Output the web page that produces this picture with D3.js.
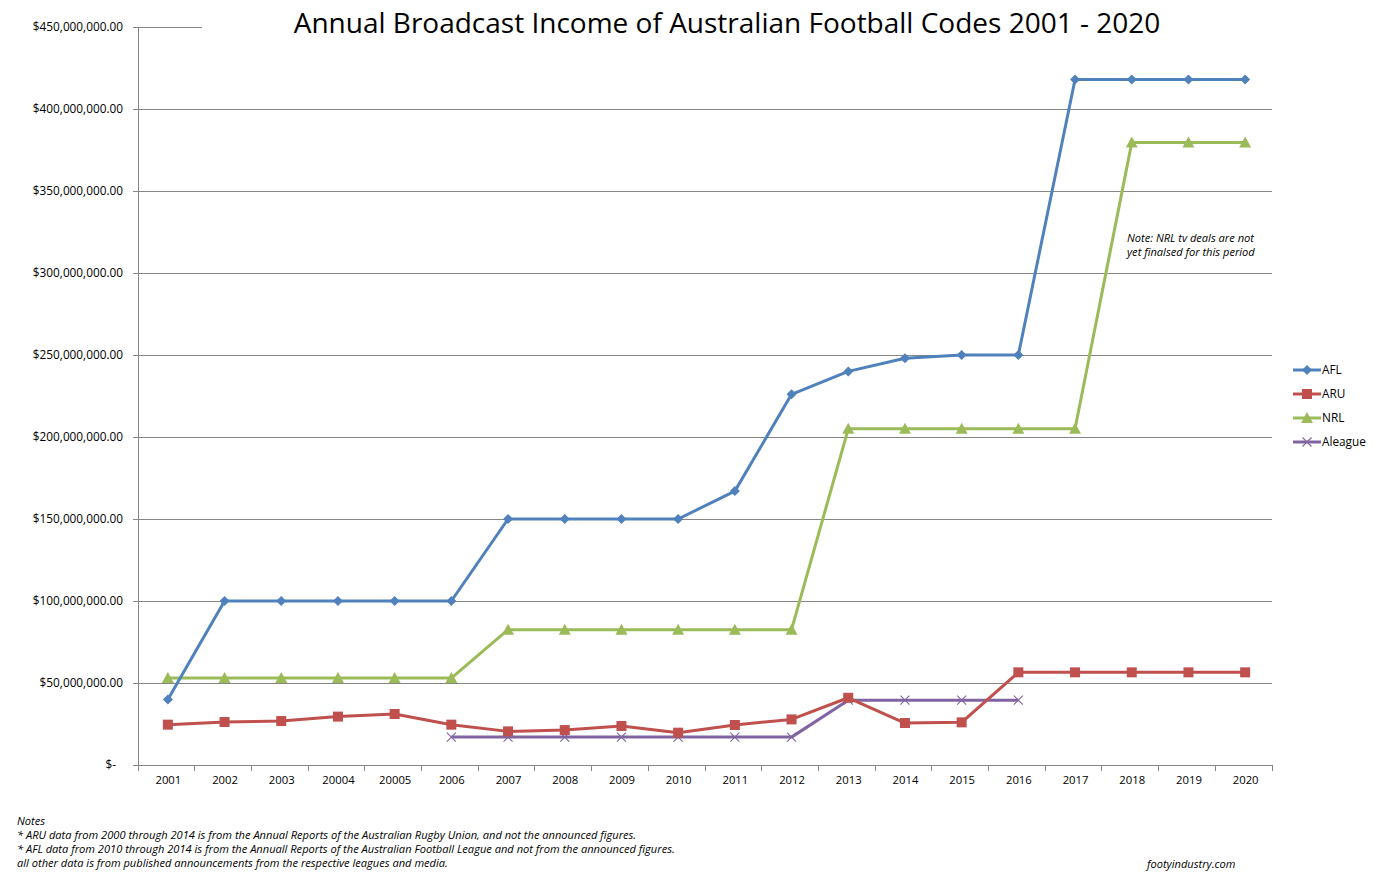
<!DOCTYPE html>
<html><head><meta charset="utf-8">
<script src="https://cdn.jsdelivr.net/npm/d3@7"></script>
<style>body{margin:0;background:#fff;} svg{display:block;} text{font-family:"Open Sans","DejaVu Sans",sans-serif;}</style>
</head><body>
<svg id="c" width="1388" height="883"></svg>
<script>
const years = ["2001","2002","2003","20004","20005","2006","2007","2008","2009","2010","2011","2012","2013","2014","2015","2016","2017","2018","2019","2020"];
const afl = [40,100,100,100,100,100,150,150,150,150,167,226,240,248,250,250,418,418,418,418];
const aru = [24.6,26.2,26.8,29.5,31.1,24.6,20.5,21.3,23.8,19.7,24.4,27.8,41,25.6,26,56.5,56.5,56.5,56.5,56.5];
const nrl = [53,53,53,53,53,53,82.5,82.5,82.5,82.5,82.5,82.5,205,205,205,205,205,379.5,379.5,379.5];
const aleague = [null,null,null,null,null,17,17,17,17,17,17,17,39.5,39.5,39.5,39.5,null,null,null,null];
const yTicks = [0,50,100,150,200,250,300,350,400,450];
const yTickLabels = ["$-","$50,000,000.00","$100,000,000.00","$150,000,000.00","$200,000,000.00","$250,000,000.00","$300,000,000.00","$350,000,000.00","$400,000,000.00","$450,000,000.00"];
const seriesNames = ["AFL","ARU","NRL","Aleague"];
const seriesColors = ["#4F81BD","#C0504D","#9BBB59","#8064A2"];
const seriesMarkers = ["diamond","square","triangle","x"];
const title = "Annual Broadcast Income of Australian Football Codes 2001 - 2020";
const noteText = ["Note: NRL tv deals are not","yet finalsed for this period"];
const footNotes = ["Notes","* ARU data from 2000 through 2014 is from the Annual Reports of the Australian Rugby Union, and not the announced figures.","* AFL data from 2010 through 2014 is from the Annuall Reports of the Australian Football League and not from the announced figures.","all other data is from published announcements from the respective leagues and media."];
const credit = "footyindustry.com";

const svg = d3.select("#c");
const L=138,R=1272,T=27,B=765;
const x = d3.scaleBand().domain(years).range([L,R]).padding(0);
const y = d3.scaleLinear().domain([0,450]).range([B,T]);
const cx = d => x(d)+x.bandwidth()/2+1.5;
const grid="#868686";

// gridlines
svg.append("g").selectAll("line").data(yTicks.filter(v=>v>0)).join("line")
  .attr("x1",L).attr("x2",R).attr("y1",d=>y(d)).attr("y2",d=>y(d))
  .attr("stroke",grid).attr("stroke-width",1).attr("shape-rendering","crispEdges");

// y axis
const ya = svg.append("g").attr("transform",`translate(${L},0)`)
  .call(d3.axisLeft(y).tickValues(yTicks).tickSize(5).tickFormat((d,i)=>yTickLabels[i]));
ya.select(".domain").attr("stroke",grid).attr("d",`M0,${T}V${B}`).attr("shape-rendering","crispEdges");
ya.selectAll(".tick line").attr("stroke",grid).attr("shape-rendering","crispEdges");
ya.selectAll(".tick text").attr("font-size","11.8px").attr("fill","#000").attr("font-family","'Open Sans',sans-serif").attr("x",-15)
  .filter(d=>d===0).attr("x",-22);

// x axis
const xa = svg.append("g").attr("transform",`translate(0,${B})`)
  .call(d3.axisBottom(x).tickSize(0).tickPadding(11));
xa.select(".domain").attr("stroke",grid).attr("d",`M${L},0H${R}`).attr("shape-rendering","crispEdges");
xa.selectAll(".tick text").attr("font-size","11.3px").attr("fill","#000").attr("font-family","'Open Sans',sans-serif").attr("dx",2);
svg.append("g").selectAll("line").data(years.concat(["__end"])).join("line")
  .attr("x1",(d,i)=>i<years.length?x(d):R).attr("x2",(d,i)=>i<years.length?x(d):R)
  .attr("y1",B).attr("y2",B+6).attr("stroke",grid).attr("shape-rendering","crispEdges");

// title box covering gridline
svg.append("rect").attr("x",202).attr("y",0).attr("width",R-202+2).attr("height",y(450)+3).attr("fill","#fff");
svg.append("text").attr("x",727).attr("y",33).attr("text-anchor","middle")
  .attr("font-size","28px").attr("font-family","'Open Sans',sans-serif").attr("fill","#000").text(title);

const data = [afl,aru,nrl,aleague];
function marker(g,type,color,px,py){
  if(type==="diamond"){
    g.append("path").attr("d",`M${px},${py-5}L${px+5},${py}L${px},${py+5}L${px-5},${py}Z`).attr("fill",color);
  } else if(type==="square"){
    g.append("rect").attr("x",px-5).attr("y",py-5).attr("width",10).attr("height",10).attr("fill",color);
  } else if(type==="triangle"){
    g.append("path").attr("d",`M${px},${py-6}L${px+6},${py+5}L${px-6},${py+5}Z`).attr("fill",color);
  } else {
    g.append("path").attr("d",`M${px-4.5},${py-4.5}L${px+4.5},${py+4.5}M${px+4.5},${py-4.5}L${px-4.5},${py+4.5}`).attr("stroke",color).attr("stroke-width",1.1).attr("fill","none");
  }
}
const order=[2,0,3,1];
order.forEach(si=>{
  const vals=data[si];
  const g=svg.append("g");
  const line=d3.line().defined(d=>d!=null).x((d,i)=>cx(years[i])).y(d=>y(d));
  g.append("path").datum(vals).attr("d",line).attr("fill","none").attr("stroke",seriesColors[si]).attr("stroke-width",3).attr("stroke-linejoin","round");
  vals.forEach((v,i)=>{ if(v!=null) marker(g,seriesMarkers[si],seriesColors[si],cx(years[i]),y(v)); });
});

// legend
seriesNames.forEach((n,i)=>{
  const ly=370+i*24;
  const g=svg.append("g");
  g.append("line").attr("x1",1293).attr("x2",1321).attr("y1",ly).attr("y2",ly).attr("stroke",seriesColors[i]).attr("stroke-width",3);
  marker(g,seriesMarkers[i],seriesColors[i],1307,ly);
  g.append("text").attr("x",1322).attr("y",ly+4).attr("font-size","11.8px").attr("fill","#000").text(n);
});

// note
noteText.forEach((t,i)=>svg.append("text").attr("x",1127).attr("y",242+i*14).attr("font-size","11.1px").attr("font-style","italic").attr("fill","#000").text(t));
footNotes.forEach((t,i)=>svg.append("text").attr("x",17).attr("y",825+i*14).attr("font-size","11.1px").attr("font-style","italic").attr("fill","#000").text(t));
svg.append("text").attr("x",1147).attr("y",868).attr("font-size","11.1px").attr("font-style","italic").attr("fill","#000").text(credit);
</script>
</body></html>
